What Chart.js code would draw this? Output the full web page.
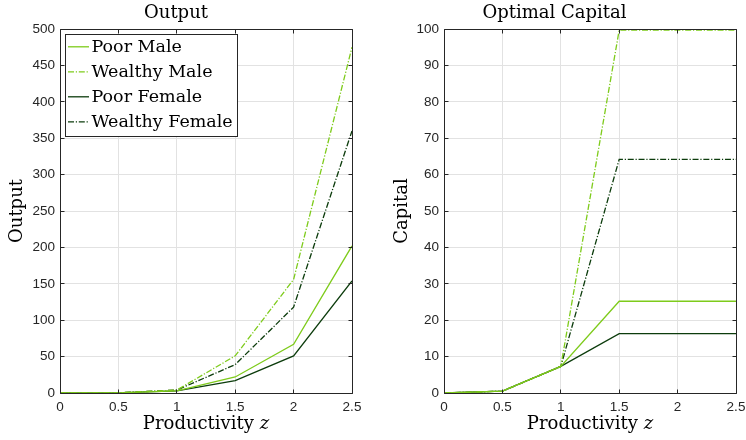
<!DOCTYPE html>
<html>
<head>
<meta charset="utf-8">
<script src="https://cdn.jsdelivr.net/npm/chart.js@4/dist/chart.umd.min.js"></script>
<style>
    html, body { margin: 0; padding: 0; background: #fff; overflow: hidden; width: 746px; height: 440px; }
    .panel { position: absolute; top: 0; height: 440px; }
</style>
</head>
<body>
<div class="panel" style="left:0;width:373px"><canvas id="output_chart" width="373" height="440"></canvas></div>
<div class="panel" style="left:373px;width:385px"><canvas id="capital_chart" width="385" height="440"></canvas></div>
<script>
// productivity grid (x axis)
const productivity = [0, 0.5, 1, 1.5, 2, 2.5];

// left panel: output
const outputPoorMale = [0, 0.3, 3, 22, 67, 202];
const outputWealthyMale = [0, 0.3, 4, 51, 156, 475];
const outputPoorFemale = [0, 0.3, 3, 17, 51, 154];
const outputWealthyFemale = [0, 0.3, 4, 39, 118, 360];

// right panel: optimal capital
const capitalPoorMale = [0, 0.5, 7.3, 25.2, 25.2, 25.2];
const capitalWealthyMale = [0, 0.5, 7.3, 99.7, 99.7, 99.7];
const capitalPoorFemale = [0, 0.5, 7.3, 16.3, 16.3, 16.3];
const capitalWealthyFemale = [0, 0.5, 7.3, 64.2, 64.2, 64.2];

// tick labels
const xTicks = [0, 0.5, 1, 1.5, 2, 2.5];
const outputTicks = [0, 50, 100, 150, 200, 250, 300, 350, 400, 450, 500];
const capitalTicks = [0, 10, 20, 30, 40, 50, 60, 70, 80, 90, 100];

const seriesNames = ['Poor Male', 'Wealthy Male', 'Poor Female', 'Wealthy Female'];

const LIGHT = '#7ecb1b';
const DARK = '#0c3c0c';
const AXIS = '#262626';
const DASHDOT = [6, 1.8, 1.2, 1.8];
const SERIF = '"DejaVu Serif", serif';
const SANS = '"Liberation Sans", Arial, sans-serif';

const seriesStyle = [
    { color: LIGHT, dash: [] },
    { color: LIGHT, dash: DASHDOT },
    { color: DARK, dash: [] },
    { color: DARK, dash: DASHDOT }
];

function align(v) {
    return Math.round(v - 0.5) + 0.5;
}

// box around the plot + inward ticks on all four sides (matlab style)
const framePlugin = {
    id: 'frame',
    afterDatasetsDraw(chart) {
        const { ctx, chartArea: a, scales } = chart;
        const L = align(a.left), R = align(a.right), T = align(a.top), B = align(a.bottom);
        ctx.save();
        ctx.strokeStyle = AXIS;
        ctx.lineWidth = 1;
        ctx.beginPath();
        ctx.rect(L, T, R - L, B - T);
        scales.x.ticks.forEach(t => {
            const px = align(scales.x.getPixelForValue(t.value));
            ctx.moveTo(px, B); ctx.lineTo(px, B - 4);
            ctx.moveTo(px, T); ctx.lineTo(px, T + 4);
        });
        scales.y.ticks.forEach(t => {
            const py = align(scales.y.getPixelForValue(t.value));
            ctx.moveTo(L, py); ctx.lineTo(L + 4, py);
            ctx.moveTo(R, py); ctx.lineTo(R - 4, py);
        });
        ctx.stroke();
        ctx.restore();
    }
};

// x title with italic z
const xTitlePlugin = {
    id: 'xTitle',
    afterDraw(chart) {
        const { ctx, chartArea: a } = chart;
        const base = 'Productivity ';
        const it = 'z';
        ctx.save();
        ctx.fillStyle = '#000';
        ctx.textBaseline = 'middle';
        ctx.font = '18px ' + SERIF;
        const w1 = ctx.measureText(base).width;
        ctx.font = 'italic 18px ' + SERIF;
        const w2 = ctx.measureText(it).width;
        let x = (a.left + a.right) / 2 - (w1 + w2) / 2;
        ctx.font = '18px ' + SERIF;
        ctx.fillText(base, x, 424);
        ctx.font = 'italic 18px ' + SERIF;
        ctx.fillText(it, x + w1, 424);
        ctx.restore();
    }
};

// legend box in the upper left corner of the output panel
const boxLegendPlugin = {
    id: 'boxLegend',
    afterDraw(chart) {
        const { ctx } = chart;
        ctx.save();
        ctx.fillStyle = '#fff';
        ctx.fillRect(65.5, 34.5, 172, 102);
        ctx.strokeStyle = AXIS;
        ctx.lineWidth = 1;
        ctx.strokeRect(65.5, 34.5, 172, 102);
        chart.data.datasets.forEach((ds, i) => {
            const y = 46.8 + i * 25;
            ctx.strokeStyle = ds.borderColor;
            ctx.lineWidth = ds.borderWidth;
            ctx.setLineDash(ds.borderDash);
            ctx.beginPath();
            ctx.moveTo(68, y);
            ctx.lineTo(89, y);
            ctx.stroke();
            ctx.setLineDash([]);
            ctx.fillStyle = '#000';
            ctx.font = '17.5px ' + SERIF;
            ctx.textBaseline = 'middle';
            ctx.fillText(ds.label, 91.5, y + 1);
        });
        ctx.restore();
    }
};

function makeDatasets(list) {
    return list.map((vals, i) => ({
        label: seriesNames[i],
        data: productivity.map((z, k) => ({ x: z, y: vals[k] })),
        borderColor: seriesStyle[i].color,
        borderDash: seriesStyle[i].dash,
        borderWidth: 1.3,
        pointRadius: 0,
        tension: 0,
        fill: false
    }));
}

function makeChart(id, title, yTitle, series, yTicks, opts) {
    const plugins = [framePlugin, xTitlePlugin];
    if (opts.legend) plugins.push(boxLegendPlugin);
    return new Chart(document.getElementById(id).getContext('2d'), {
        type: 'line',
        data: { datasets: makeDatasets(series) },
        plugins: plugins,
        options: {
            responsive: false,
            animation: false,
            events: [],
            layout: { padding: { left: 0, right: opts.padRight, top: 0, bottom: 0 } },
            plugins: {
                legend: { display: false },
                tooltip: { enabled: false },
                title: {
                    display: true,
                    text: title,
                    color: '#000',
                    font: { family: SERIF, size: 18, weight: 'normal', lineHeight: 1.2 },
                    padding: { top: 3, bottom: 4.4 }
                }
            },
            scales: {
                x: {
                    type: 'linear',
                    min: 0,
                    max: 2.5,
                    afterBuildTicks: s => { s.ticks = xTicks.map(v => ({ value: v })); },
                    afterFit: s => { s.height = 47; },
                    grid: { color: '#e2e2e2', lineWidth: 1, drawTicks: false },
                    border: { display: false },
                    ticks: {
                        color: AXIS,
                        padding: 6,
                        maxRotation: 0,
                        callback: v => String(v),
                        font: { family: SANS, size: 13.5 }
                    }
                },
                y: {
                    type: 'linear',
                    min: 0,
                    max: yTicks[yTicks.length - 1],
                    afterBuildTicks: s => { s.ticks = yTicks.map(v => ({ value: v })); },
                    afterFit: s => { s.width = opts.yWidth; },
                    grid: { color: '#e2e2e2', lineWidth: 1, drawTicks: false },
                    border: { display: false },
                    ticks: {
                        color: AXIS,
                        padding: 5,
                        callback: v => String(v),
                        font: { family: SANS, size: 13.5 }
                    },
                    title: {
                        display: true,
                        text: yTitle,
                        color: '#000',
                        font: { family: SERIF, size: 18, weight: 'normal', lineHeight: 1.2 },
                        padding: { top: opts.yTitlePad, bottom: 0 }
                    }
                }
            }
        }
    });
}

makeChart('output_chart', 'Output', 'Output',
    [outputPoorMale, outputWealthyMale, outputPoorFemale, outputWealthyFemale],
    outputTicks, { padRight: 21, yWidth: 60, yTitlePad: 6.7, legend: true });

makeChart('capital_chart', 'Optimal Capital', 'Capital',
    [capitalPoorMale, capitalWealthyMale, capitalPoorFemale, capitalWealthyFemale],
    capitalTicks, { padRight: 22, yWidth: 71, yTitlePad: 18.7, legend: false });
</script>
</body>
</html>
